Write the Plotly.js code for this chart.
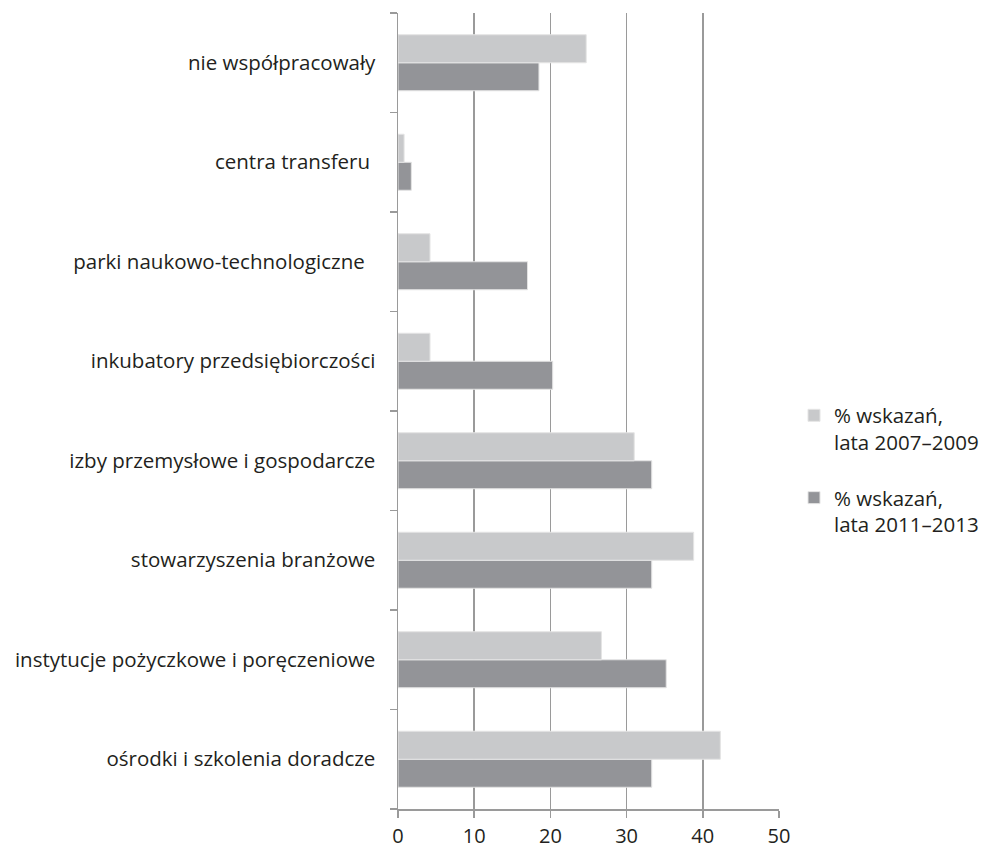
<!DOCTYPE html>
<html>
<head>
<meta charset="utf-8">
<script src="https://cdn.plot.ly/plotly-3.0.1.min.js"></script>
<style>html,body{margin:0;padding:0;background:#fff;}#chart{width:984px;height:848px;}</style>
</head>
<body>
<div id="chart"></div>
<script>
const categories = [
  "ośrodki i szkolenia doradcze",
  "instytucje pożyczkowe i poręczeniowe",
  "stowarzyszenia branżowe",
  "izby przemysłowe i gospodarcze",
  "inkubatory przedsiębiorczości",
  "parki naukowo-technologiczne\u00a0\u00a0",
  "centra transferu\u00a0",
  "nie współpracowały"
];
const values2007 = [42.3, 26.7, 38.8, 31.0, 4.2, 4.2, 0.8, 24.7];
const values2011 = [33.3, 35.2, 33.3, 33.3, 20.3, 17.0, 1.75, 18.5];
const seriesNames = ["% wskazań,<br>lata 2007–2009", "% wskazań,<br>lata 2011–2013"];
const xTicks = [0, 10, 20, 30, 40, 50];

const font = "Open Sans, Lato, sans-serif";
const fs = 20.5;

const traces = [
  {
    type: "bar", orientation: "h", name: seriesNames[1],
    y: categories, x: values2011,
    marker: {color: "#939498", line: {color: "#e4e4e4", width: 1}},
    legendrank: 2, legendgroup: "b", hoverinfo: "x+y"
  },
  {
    type: "bar", orientation: "h", name: seriesNames[0],
    y: categories, x: values2007,
    marker: {color: "#c8c9cb", line: {color: "#e4e4e4", width: 1}},
    legendrank: 1, legendgroup: "a", hoverinfo: "x+y"
  }
];

const layout = {
  width: 984, height: 848,
  margin: {l: 398, r: 205, t: 13, b: 39},
  paper_bgcolor: "#ffffff", plot_bgcolor: "#ffffff",
  font: {family: font, size: fs, color: "#231f20"},
  barmode: "group",
  bargap: 0.437,
  bargroupgap: 0,
  showlegend: true,
  legend: {
    xref: "container", yref: "container",
    x: 794 / 984, xanchor: "left", y: 1 - 470 / 848, yanchor: "middle",
    font: {family: font, size: fs, color: "#231f20"},
    valign: "top", traceorder: "grouped", tracegroupgap: 26,
    bgcolor: "rgba(0,0,0,0)"
  },
  xaxis: {
    range: [0, 50], tickvals: xTicks, ticktext: xTicks.map(String),
    showgrid: true, gridcolor: "#9a9a9a", gridwidth: 1.5,
    zeroline: false, showline: true, linecolor: "#9a9a9a", linewidth: 1.5,
    ticks: "outside", ticklen: 7, tickcolor: "#9a9a9a", tickwidth: 1.5,
    ticklabelstandoff: 1,
    tickfont: {family: font, size: 20, color: "#231f20"},
    fixedrange: true
  },
  yaxis: {
    type: "category", categoryorder: "array", categoryarray: categories,
    showgrid: false, zeroline: false, showline: true, linecolor: "#9a9a9a", linewidth: 1.5,
    ticks: "outside", ticklen: 7, tickcolor: "#9a9a9a", tickwidth: 1.5,
    tickson: "boundaries",
    ticklabelstandoff: 17,
    tickfont: {family: font, size: fs, color: "#231f20"},
    fixedrange: true
  }
};

Plotly.newPlot("chart", traces, layout, {displayModeBar: false, staticPlot: true});
</script>
</body>
</html>
